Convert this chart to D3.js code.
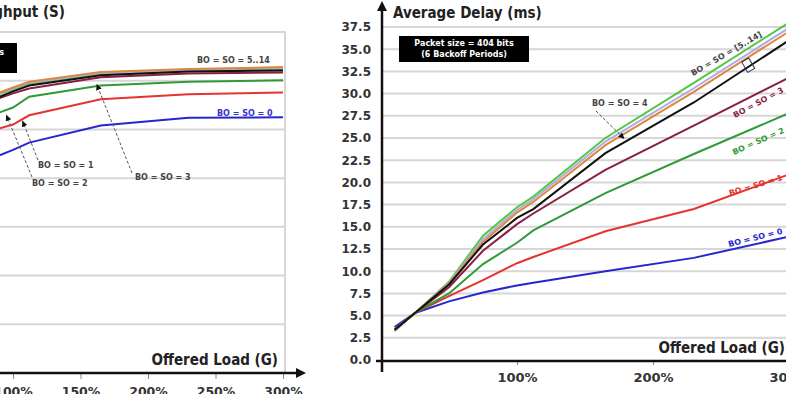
<!DOCTYPE html>
<html>
<head>
<meta charset="utf-8">
<script src="https://cdn.jsdelivr.net/npm/d3@7"></script>
<style>
  body { margin: 0; background: #fff; }
  svg { display: block; font-family: "DejaVu Sans", Verdana, sans-serif; }
</style>
</head>
<body>
<div id="chart"></div>
<script>
// Offered load (%) at which both curves were sampled.
const loads = [10, 25, 50, 75, 100, 112, 165, 230, 300];

// One entry per curve: name and colour (drawn in this order).
const seriesNames = ["BO = SO = 0", "BO = SO = 1", "BO = SO = 2", "BO = SO = 3",
  "BO = SO = 5..14 (a)", "BO = SO = 5..14 (b)", "BO = SO = 5..14 (c)", "BO = SO = 4"];
const seriesColors = ["#2626d0", "#e5332e", "#2f9a36", "#8a1f3e",
  "#52c842", "#b3a8e8", "#d98a3c", "#111111"];

// Throughput (S), same order as seriesNames.
const throughput0 = [0.10, 0.24, 0.38, 0.43, 0.458, 0.473, 0.508, 0.524, 0.525];
const throughput1 = [0.10, 0.25, 0.45, 0.49, 0.510, 0.529, 0.562, 0.572, 0.576];
const throughput2 = [0.10, 0.25, 0.48, 0.52, 0.545, 0.567, 0.590, 0.598, 0.601];
const throughput3 = [0.10, 0.25, 0.49, 0.55, 0.574, 0.584, 0.607, 0.615, 0.617];
const throughput5a = [0.10, 0.25, 0.49, 0.56, 0.582, 0.594, 0.614, 0.621, 0.624];
const throughput5b = [0.10, 0.25, 0.49, 0.56, 0.584, 0.596, 0.616, 0.622, 0.626];
const throughput5c = [0.10, 0.25, 0.49, 0.56, 0.586, 0.598, 0.618, 0.624, 0.628];
const throughput4 = [0.10, 0.25, 0.49, 0.55, 0.578, 0.590, 0.611, 0.619, 0.621];

// Average delay (ms), same order as seriesNames.
const delay0 = [3.7, 5.3, 6.6, 7.6, 8.4, 8.7, 10.0, 11.5, 13.9];
const delay1 = [3.4, 5.3, 7.2, 9.0, 10.9, 11.6, 14.5, 17.0, 20.9];
const delay2 = [3.4, 5.3, 7.5, 10.8, 13.2, 14.6, 18.8, 23.2, 27.8];
const delay3 = [3.3, 5.3, 8.2, 12.3, 15.3, 16.5, 21.4, 26.4, 31.8];
const delay5a = [3.4, 5.3, 8.8, 14.0, 17.2, 18.4, 25.0, 31.2, 38.0];
const delay5b = [3.4, 5.3, 8.7, 13.6, 16.9, 18.1, 24.6, 30.6, 37.4];
const delay5c = [3.4, 5.3, 8.6, 13.3, 16.6, 17.8, 24.2, 30.2, 37.0];
const delay4 = [3.4, 5.3, 8.5, 13.0, 16.0, 17.0, 23.3, 29.0, 36.0];

// Tick values.
const throughputTicks = [0.1, 0.2, 0.3, 0.4, 0.5, 0.6, 0.7];
const delayTicks = [0, 2.5, 5, 7.5, 10, 12.5, 15, 17.5, 20, 22.5, 25, 27.5, 30, 32.5, 35, 37.5];
const leftLoadTicks = [0, 50, 100, 150, 200, 250, 300];
const rightLoadTicks = [100, 200, 300];

const throughputSeries = [throughput0, throughput1, throughput2, throughput3,
  throughput5a, throughput5b, throughput5c, throughput4];
const delaySeries = [delay0, delay1, delay2, delay3, delay5a, delay5b, delay5c, delay4];

const width = 786;
const height = 394;

const svg = d3.select("#chart").append("svg")
  .attr("width", width)
  .attr("height", height);

// Arrow head used by the dashed leader lines.
svg.append("defs").append("marker")
  .attr("id", "tip")
  .attr("viewBox", "0 0 6 6")
  .attr("refX", 6).attr("refY", 3)
  .attr("markerWidth", 6).attr("markerHeight", 6)
  .attr("markerUnits", "userSpaceOnUse")
  .attr("orient", "auto")
  .append("path")
  .attr("d", "M0,0L6,3L0,6Z")
  .attr("fill", "#111");

function toRows(values) {
  return loads.map((l, i) => [l, values[i]]);
}

/**
 * Draw a dashed leader going from a label to a point on a curve.
 */
function leader(g, from, to) {
  g.append("line")
    .attr("x1", from[0]).attr("y1", from[1])
    .attr("x2", to[0]).attr("y2", to[1])
    .attr("stroke", "#555")
    .attr("stroke-width", 1)
    .attr("stroke-dasharray", "3,2")
    .attr("marker-end", "url(#tip)");
}

function note(g, text, px, py, color, rotate, anchor) {
  g.append("text")
    .attr("transform", `translate(${px},${py}) rotate(${rotate || 0})`)
    .attr("text-anchor", anchor || "start")
    .style("font-size", "8px")
    .style("font-weight", "bold")
    .style("fill", color || "#444")
    .text(text);
}

/**
 * Left panel: throughput, cropped on its left side.
 */
function drawThroughput() {
  const x = d3.scaleLinear().domain([0, 300]).range([-122, 283]);
  const y = d3.scaleLinear().domain([0, 0.7]).range([373, 32]);
  const g = svg.append("g");
  const right = x(300) + 2;

  // Grid lines
  g.selectAll(".grid")
    .data(throughputTicks)
    .enter().append("line")
    .attr("x1", 0).attr("x2", right)
    .attr("y1", d => y(d)).attr("y2", d => y(d))
    .attr("stroke", "#d6d6d6")
    .attr("stroke-width", 2);

  // Right edge of the frame
  g.append("line")
    .attr("x1", right).attr("x2", right)
    .attr("y1", y(0.7) - 1).attr("y2", y(0))
    .attr("stroke", "#d6d6d6")
    .attr("stroke-width", 2);

  // Legend box, mostly outside of the picture
  g.append("rect")
    .attr("x", -113).attr("y", 43)
    .attr("width", 130).attr("height", 30)
    .attr("fill", "#000");
  g.append("text")
    .attr("x", 4).attr("y", 55)
    .attr("text-anchor", "end")
    .style("font-size", "8px").style("font-weight", "bold").style("fill", "#fff")
    .text("Packet size = 404 bits");
  g.append("text")
    .attr("x", -6).attr("y", 66)
    .attr("text-anchor", "end")
    .style("font-size", "8px").style("font-weight", "bold").style("fill", "#fff")
    .text("(6 Backoff Periods)");

  // Curves
  const line = d3.line().x(d => x(d[0])).y(d => y(d[1]));
  g.selectAll(".curve")
    .data(throughputSeries)
    .enter().append("path")
    .attr("d", d => line(toRows(d)))
    .attr("fill", "none")
    .attr("stroke", (d, i) => seriesColors[i])
    .attr("stroke-width", 2);

  // X axis
  const axis = g.append("g")
    .attr("transform", `translate(0,${y(0)})`)
    .call(d3.axisBottom(x).tickValues(leftLoadTicks).tickSize(6).tickFormat(d => d + "%"));
  axis.select(".domain").remove();
  axis.selectAll(".tick line").attr("stroke", "#888");
  axis.selectAll(".tick text")
    .attr("y", 14)
    .style("font-family", "DejaVu Sans")
    .style("font-size", "12.5px")
    .style("font-weight", "bold")
    .style("fill", "#333");
  g.append("line")
    .attr("x1", 0).attr("x2", right + 12)
    .attr("y1", y(0)).attr("y2", y(0))
    .attr("stroke", "#111").attr("stroke-width", 2.5);
  g.append("path")
    .attr("d", `M${right + 11},${y(0) - 5}L${right + 21},${y(0)}L${right + 11},${y(0) + 5}Z`)
    .attr("fill", "#111");

  g.append("text")
    .attr("x", 278).attr("y", 365)
    .attr("text-anchor", "end")
    .style("font-size", "15px").style("font-weight", "bold").style("fill", "#222")
    .style("font-family", "DejaVu Sans Condensed")
    .text("Offered Load (G)");

  g.append("text")
    .attr("x", 65).attr("y", 17)
    .attr("text-anchor", "end")
    .style("font-size", "15px").style("font-weight", "bold").style("fill", "#222")
    .style("font-family", "DejaVu Sans Condensed")
    .text("Throughput (S)");

  // Annotations
  note(g, "BO = SO = 5..14", 197, 63);
  note(g, "BO = SO = 0", 217, 116, "#3333cc");
  note(g, "BO = SO = 1", 38, 168);
  note(g, "BO = SO = 2", 32, 186);
  note(g, "BO = SO = 3", 135, 180);
  leader(g, [38, 160], [x(107), y(0.518)]);
  leader(g, [32, 177], [x(95), y(0.53)]);
  leader(g, [132, 173], [x(162), y(0.593)]);
}

/**
 * Right panel: average delay, cropped on its right side.
 */
function drawDelay() {
  const x = d3.scaleLinear().domain([0, 300]).range([381, 789]);
  const y = d3.scaleLinear().domain([0, 37.5]).range([360, 27]);
  const g = svg.append("g");

  // Grid lines
  g.selectAll(".grid")
    .data(delayTicks.filter(d => d > 0))
    .enter().append("line")
    .attr("x1", x(0)).attr("x2", width)
    .attr("y1", d => y(d)).attr("y2", d => y(d))
    .attr("stroke", "#d6d6d6")
    .attr("stroke-width", 2);

  // Y axis labels
  const yAxis = g.append("g")
    .attr("transform", `translate(${x(0)},0)`)
    .call(d3.axisLeft(y).tickValues(delayTicks).tickSize(0).tickPadding(10)
      .tickFormat(d3.format(".1f")));
  yAxis.select(".domain").remove();
  yAxis.selectAll(".tick text")
    .style("font-family", "DejaVu Sans")
    .style("font-size", "12px")
    .style("font-weight", "bold")
    .style("fill", "#333");

  // Packet size box
  g.append("rect")
    .attr("x", 399).attr("y", 36)
    .attr("width", 130).attr("height", 26)
    .attr("fill", "#000");
  g.append("text")
    .attr("x", 464).attr("y", 46)
    .attr("text-anchor", "middle")
    .style("font-size", "8px").style("font-weight", "bold").style("fill", "#fff")
    .text("Packet size = 404 bits");
  g.append("text")
    .attr("x", 464).attr("y", 57)
    .attr("text-anchor", "middle")
    .style("font-size", "8px").style("font-weight", "bold").style("fill", "#fff")
    .text("(6 Backoff Periods)");

  // Curves
  const line = d3.line().x(d => x(d[0])).y(d => y(d[1]));
  g.selectAll(".curve")
    .data(delaySeries)
    .enter().append("path")
    .attr("d", d => line(toRows(d)))
    .attr("fill", "none")
    .attr("stroke", (d, i) => seriesColors[i])
    .attr("stroke-width", 2);

  // X axis
  const xAxis = g.append("g")
    .attr("transform", `translate(0,${y(0)})`)
    .call(d3.axisBottom(x).tickValues(rightLoadTicks).tickSize(5).tickFormat(d => d + "%"));
  xAxis.select(".domain").remove();
  xAxis.selectAll(".tick line").attr("stroke", "#888");
  xAxis.selectAll(".tick text")
    .attr("y", 13)
    .style("font-family", "DejaVu Sans")
    .style("font-size", "13px")
    .style("font-weight", "bold")
    .style("fill", "#333");
  g.append("line")
    .attr("x1", x(0) - 5).attr("x2", width)
    .attr("y1", y(0) + 1).attr("y2", y(0) + 1)
    .attr("stroke", "#111").attr("stroke-width", 2.5);
  g.append("line")
    .attr("x1", x(0) + 1).attr("x2", x(0) + 1)
    .attr("y1", y(0) + 12).attr("y2", 9)
    .attr("stroke", "#111").attr("stroke-width", 2.5);
  g.append("path")
    .attr("d", `M${x(0) - 4},11L${x(0) + 1},1L${x(0) + 6},11Z`)
    .attr("fill", "#111");

  g.append("text")
    .attr("x", 393).attr("y", 18)
    .style("font-size", "15px").style("font-weight", "bold").style("fill", "#222")
    .style("font-family", "DejaVu Sans Condensed")
    .text("Average Delay (ms)");

  g.append("text")
    .attr("x", 785).attr("y", 353)
    .attr("text-anchor", "end")
    .style("font-size", "15px").style("font-weight", "bold").style("fill", "#222")
    .style("font-family", "DejaVu Sans Condensed")
    .text("Offered Load (G)");

  // Annotations
  note(g, "BO = SO = 4", 592, 106);
  leader(g, [596, 111], [x(179), y(24.9)]);
  note(g, "BO = SO = [5..14]", 693, 76, "#444", -30);
  g.append("rect")
    .attr("transform", `translate(${x(270)},${y(33.2)}) rotate(-30)`)
    .attr("x", -4).attr("y", -6)
    .attr("width", 8).attr("height", 12)
    .attr("fill", "none")
    .attr("stroke", "#335")
    .attr("stroke-width", 1);
  note(g, "BO = SO = 3", 735, 118, seriesColors[3], -28);
  note(g, "BO = SO = 2", 734, 155, seriesColors[2], -24);
  note(g, "BO = SO = 1", 730, 196, seriesColors[1], -17);
  note(g, "BO = SO = 0", 729, 247, seriesColors[0], -14);
}

drawThroughput();
drawDelay();
</script>
</body>
</html>
